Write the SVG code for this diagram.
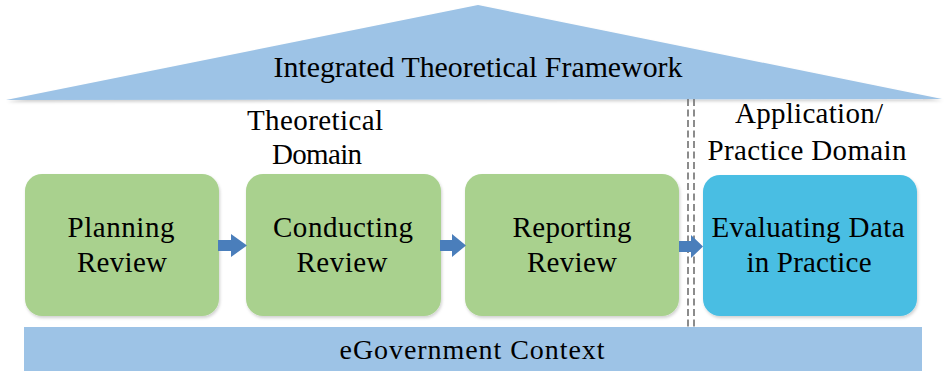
<svg xmlns="http://www.w3.org/2000/svg" width="944" height="371" viewBox="0 0 944 371">
  <defs>
    <filter id="soft" x="-5%" y="-5%" width="112%" height="115%">
      <feDropShadow dx="1" dy="2" stdDeviation="1.5" flood-color="#000" flood-opacity="0.18"/>
    </filter>
    <style>
      .lbl { font-family: "Liberation Serif", Tinos, "Times New Roman", Times, "Nimbus Roman", "Nimbus Roman No9 L", FreeSerif, "Noto Serif", "DejaVu Serif", Georgia, serif; fill: #000; text-anchor: middle; }
      .box-green { fill: #a9d18e; }
      .box-blue { fill: #49bee3; }
      .band { fill: #9dc3e6; }
      .arrow { fill: #4a7ebb; }
      .divider { stroke: #707070; stroke-width: 1.6; stroke-dasharray: 7 3.5; fill: none; }
    </style>
  </defs>
  <rect width="944" height="371" fill="#ffffff"/>

  <!-- roof -->
  <g id="framework">
    <polygon class="band" points="478,5 942,99 6,100" filter="url(#soft)"/>
    <text class="lbl" x="478" y="77" font-size="29" textLength="409" lengthAdjust="spacingAndGlyphs">Integrated Theoretical Framework</text>
  </g>

  <!-- domain labels -->
  <g id="theoretical-domain">
    <text class="lbl" x="315" y="130" font-size="29" textLength="136" lengthAdjust="spacing">Theoretical</text>
    <text class="lbl" x="317" y="164" font-size="29" textLength="90" lengthAdjust="spacing">Domain</text>
  </g>
  <g id="practice-domain">
    <text class="lbl" x="809" y="123" font-size="29" textLength="148" lengthAdjust="spacing">Application/</text>
    <text class="lbl" x="807" y="160" font-size="29" textLength="199" lengthAdjust="spacing">Practice Domain</text>
  </g>

  <!-- process steps -->
  <g id="planning">
    <rect class="box-green" x="25" y="174" width="194" height="142" rx="17" filter="url(#soft)"/>
    <text class="lbl" x="121" y="237" font-size="29" textLength="107" lengthAdjust="spacing">Planning</text>
    <text class="lbl" x="122" y="272" font-size="29" textLength="90" lengthAdjust="spacing">Review</text>
  </g>
  <g id="conducting">
    <rect class="box-green" x="246" y="174" width="195" height="142" rx="17" filter="url(#soft)"/>
    <text class="lbl" x="343" y="237" font-size="29" textLength="140" lengthAdjust="spacing">Conducting</text>
    <text class="lbl" x="342" y="272" font-size="29" textLength="91" lengthAdjust="spacing">Review</text>
  </g>
  <g id="reporting">
    <rect class="box-green" x="465" y="174" width="214" height="142" rx="17" filter="url(#soft)"/>
    <text class="lbl" x="572" y="237" font-size="29" textLength="119" lengthAdjust="spacing">Reporting</text>
    <text class="lbl" x="572" y="272" font-size="29" textLength="90" lengthAdjust="spacing">Review</text>
  </g>
  <g id="evaluating">
    <rect class="box-blue" x="703" y="175" width="214" height="141" rx="17" filter="url(#soft)"/>
    <text class="lbl" x="808" y="237" font-size="29" textLength="193" lengthAdjust="spacing">Evaluating Data</text>
    <text class="lbl" x="809" y="272" font-size="29" textLength="125" lengthAdjust="spacing">in Practice</text>
  </g>

  <!-- base -->
  <g id="egovernment">
    <rect class="band" x="24" y="327" width="898" height="44"/>
    <text class="lbl" x="472" y="359" font-size="28" textLength="265" lengthAdjust="spacing">eGovernment Context</text>
  </g>

  <!-- connectors and domain divider -->
  <g id="connectors">
    <line class="divider" x1="688" y1="99" x2="688" y2="328"/>
    <line class="divider" x1="694" y1="99" x2="694" y2="328"/>
    <polygon class="arrow" points="218,240 231,240 231,234 247,245.5 231,257 231,251 218,251"/>
    <polygon class="arrow" points="440,240 452,240 452,234 466,245.5 452,257 452,251 440,251"/>
    <polygon class="arrow" points="679,241 691,241 691,235 703,246.5 691,258 691,252 679,252"/>
  </g>
</svg>
